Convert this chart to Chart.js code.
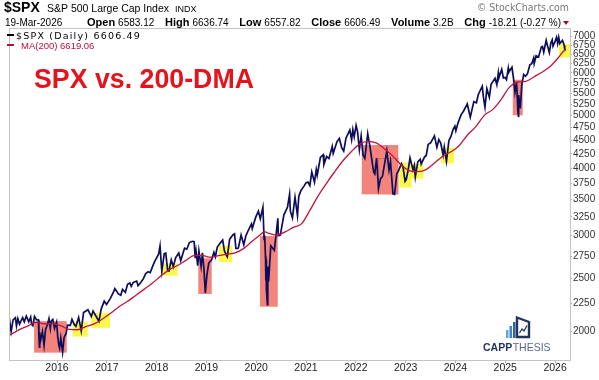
<!DOCTYPE html>
<html>
<head>
<meta charset="utf-8">
<script src="https://cdn.jsdelivr.net/npm/chart.js@4.4.1/dist/chart.umd.min.js"></script>
<style>
  html, body { margin: 0; padding: 0; background: #fff; }
  #chart { display: block; }
</style>
</head>
<body>
<canvas id="chart" width="599" height="380"></canvas>
<script>
const spxDates = [
  '2015-01-13','2015-01-15','2015-01-22','2015-01-30','2015-02-13','2015-03-02','2015-03-10','2015-03-20','2015-04-01','2015-04-24',
  '2015-05-06','2015-05-21','2015-06-08','2015-06-22','2015-06-29','2015-07-08','2015-07-20','2015-08-03','2015-08-18','2015-08-21',
  '2015-08-25','2015-08-27','2015-09-01','2015-09-16','2015-09-28','2015-10-09','2015-10-22','2015-11-03','2015-11-13','2015-11-20',
  '2015-12-01','2015-12-14','2015-12-29','2016-01-07','2016-01-15','2016-01-20','2016-01-29','2016-02-11','2016-02-22','2016-03-08',
  '2016-03-18','2016-04-08','2016-04-20','2016-05-06','2016-05-19','2016-06-08','2016-06-27','2016-07-14','2016-08-15','2016-09-09',
  '2016-09-22','2016-10-13','2016-11-04','2016-11-21','2016-12-13','2016-12-30','2017-01-26','2017-02-15','2017-03-01','2017-03-27',
  '2017-04-13','2017-04-26','2017-05-17','2017-06-02','2017-06-19','2017-06-29','2017-07-14','2017-08-08','2017-08-18','2017-09-08',
  '2017-09-25','2017-10-13','2017-10-31','2017-11-15','2017-12-04','2017-12-18','2018-01-05','2018-01-16','2018-01-26','2018-02-08',
  '2018-02-26','2018-03-09','2018-03-23','2018-04-02','2018-04-18','2018-05-03','2018-05-21','2018-06-12','2018-06-27','2018-07-16',
  '2018-07-25','2018-08-10','2018-08-29','2018-09-20','2018-10-03','2018-10-11','2018-10-17','2018-10-29','2018-11-07','2018-11-23',
  '2018-12-03','2018-12-14','2018-12-24','2019-01-04','2019-01-18','2019-02-08','2019-02-25','2019-03-08','2019-03-21','2019-04-12',
  '2019-04-30','2019-05-13','2019-05-31','2019-06-03','2019-06-20','2019-07-15','2019-07-26','2019-08-05','2019-08-14','2019-08-23',
  '2019-09-12','2019-10-02','2019-10-17','2019-11-05','2019-11-27','2019-12-03','2019-12-27','2020-01-17','2020-01-31','2020-02-19',
  '2020-02-28','2020-03-03','2020-03-09','2020-03-12','2020-03-13','2020-03-16','2020-03-23','2020-03-26','2020-04-01','2020-04-17',
  '2020-05-13','2020-06-08','2020-06-11','2020-06-26','2020-07-22','2020-08-18','2020-09-02','2020-09-08','2020-09-23','2020-10-12',
  '2020-10-30','2020-11-09','2020-11-24','2020-12-18','2020-12-31','2021-01-15','2021-01-29','2021-02-12','2021-03-04','2021-03-17',
  '2021-03-24','2021-04-16','2021-05-07','2021-05-12','2021-06-01','2021-06-18','2021-07-12','2021-07-19','2021-08-16','2021-09-02',
  '2021-09-20','2021-10-04','2021-10-21','2021-11-18','2021-12-01','2021-12-10','2021-12-20','2022-01-03','2022-01-14','2022-01-27',
  '2022-02-09','2022-02-23','2022-03-08','2022-03-29','2022-04-14','2022-04-29','2022-05-12','2022-05-20','2022-06-02','2022-06-16',
  '2022-07-01','2022-07-15','2022-08-16','2022-09-01','2022-09-12','2022-09-30','2022-10-12','2022-10-28','2022-11-10','2022-12-01',
  '2022-12-13','2022-12-28','2023-01-05','2023-01-20','2023-02-02','2023-02-24','2023-03-06','2023-03-13','2023-03-31','2023-04-18',
  '2023-04-25','2023-05-19','2023-06-01','2023-06-15','2023-07-03','2023-07-31','2023-08-18','2023-09-01','2023-09-15','2023-10-03',
  '2023-10-11','2023-10-27','2023-11-14','2023-12-01','2023-12-15','2023-12-28','2024-01-04','2024-01-19','2024-02-12','2024-02-29',
  '2024-03-28','2024-04-19','2024-05-15','2024-06-03','2024-06-17','2024-07-16','2024-07-25','2024-08-05','2024-08-19','2024-09-06',
  '2024-09-19','2024-10-18','2024-10-31','2024-11-11','2024-11-15','2024-12-06','2024-12-18','2024-12-31','2025-01-10','2025-01-23',
  '2025-01-27','2025-02-19','2025-03-03','2025-03-13','2025-03-25','2025-04-04','2025-04-08','2025-04-09','2025-04-21','2025-05-02',
  '2025-05-16','2025-05-30','2025-06-13','2025-06-30','2025-07-15','2025-07-28','2025-08-01','2025-08-15','2025-09-02','2025-09-22',
  '2025-10-01','2025-10-10','2025-10-28','2025-11-07','2025-11-20','2025-12-01','2025-12-11','2025-12-17','2025-12-31','2026-01-12',
  '2026-01-20','2026-01-28','2026-02-05','2026-02-13','2026-02-24','2026-03-03','2026-03-09','2026-03-13','2026-03-19'
];
const spxClose = [
  2023,1992,2063,1995,2097,2117,2044,2108,2060,2117,
  2080,2131,2080,2122,2058,2046,2128,2098,2097,1971,
  1867,1988,1914,1996,1881,2014,2052,2109,2023,2089,
  2102,2022,2078,1943,1880,1859,1940,1829,1946,1979,
  2050,2048,2102,2057,2040,2119,2001,2163,2190,2128,
  2177,2132,2085,2198,2271,2239,2296,2349,2396,2342,
  2329,2387,2357,2439,2453,2419,2459,2474,2425,2461,
  2497,2553,2575,2564,2639,2690,2743,2776,2873,2581,
  2780,2786,2588,2582,2708,2630,2733,2787,2699,2798,
  2846,2833,2914,2930,2925,2728,2809,2641,2813,2633,
  2790,2600,2351,2532,2671,2708,2796,2743,2855,2907,
  2946,2812,2752,2744,2954,3014,3025,2844,2840,2847,
  3009,2887,2998,3074,3154,3093,3240,3330,3225,3386,
  2954,3003,2747,2480,2711,2386,2237,2630,2470,2875,
  2820,3232,3002,3009,3276,3390,3580,3331,3237,3534,
  3270,3550,3635,3709,3756,3768,3714,3934,3768,3975,
  3881,4185,4233,4063,4202,4166,4385,4258,4479,4537,
  4358,4300,4549,4704,4513,4712,4568,4797,4662,4326,
  4587,4225,4170,4632,4392,4132,3930,3901,4176,3667,
  3825,3863,4305,3966,4110,3586,3577,3901,3956,4077,
  4019,3783,3808,3973,4180,3970,4048,3855,4109,4154,
  4071,4192,4221,4425,4455,4589,4370,4515,4450,4229,
  4376,4117,4496,4594,4719,4783,4688,4840,5022,5096,
  5254,4967,5308,5283,5473,5667,5399,5186,5608,5408,
  5713,5864,5705,6001,5870,6090,5872,5882,5827,6119,
  6012,6144,5850,5522,5777,5074,4983,5457,5158,5687,
  5958,5912,5977,6205,6244,6390,6238,6450,6415,6694,
  6711,6553,6890,6728,6538,6812,6901,6721,6845,6977,
  6796,6978,6798,6836,6890,6816,6740,6632,6606
];

// 200-day moving average
const maDates = [
  '2015-01-13','2015-01-31','2015-03-31','2015-05-31','2015-07-31','2015-09-30','2015-11-30','2016-01-31','2016-03-31','2016-05-31',
  '2016-07-31','2016-09-30','2016-11-30','2017-01-31','2017-03-31','2017-05-31','2017-07-31','2017-09-30','2017-11-30','2018-01-31',
  '2018-03-31','2018-05-31','2018-07-31','2018-09-30','2018-11-30','2018-12-31','2019-01-31','2019-03-31','2019-05-31','2019-07-31',
  '2019-09-30','2019-11-30','2020-01-31','2020-02-29','2020-03-31','2020-05-31','2020-07-31','2020-09-30','2020-11-30','2021-01-31',
  '2021-03-31','2021-05-31','2021-07-31','2021-09-30','2021-11-30','2022-01-31','2022-03-31','2022-05-31','2022-07-31','2022-09-30',
  '2022-11-30','2023-01-31','2023-03-31','2023-05-31','2023-07-31','2023-09-30','2023-11-30','2023-12-31','2024-01-31','2024-03-31',
  '2024-05-31','2024-07-31','2024-09-30','2024-11-30','2025-01-31','2025-03-31','2025-05-31','2025-07-31','2025-09-30','2025-11-30',
  '2026-01-31','2026-02-28','2026-03-19'
];
const maValues = [
  1962,1973,2012,2042,2075,2063,2064,2044,2014,2011,
  2038,2061,2105,2159,2217,2267,2327,2388,2450,2528,
  2592,2640,2698,2757,2760,2746,2739,2756,2773,2790,
  2840,2926,3012,3054,3031,3008,3049,3109,3158,3348,
  3554,3749,3943,4132,4294,4434,4483,4453,4338,4209,
  4053,3955,3941,3975,4088,4207,4288,4340,4410,4610,
  4777,5007,5131,5350,5641,5769,5788,5900,6021,6176,
  6428,6564,6619
];

const yearTicks = [2016, 2017, 2018, 2019, 2020, 2021, 2022, 2023, 2024, 2025, 2026];
const priceTicks = [2000, 2250, 2500, 2750, 3000, 3250, 3500, 3750, 4000, 4250, 4500,
  4750, 5000, 5250, 5500, 5750, 6000, 6250, 6500, 6750, 7000];

// quote bar: label / value pairs
const quoteLabels = ['Open', 'High', 'Low', 'Close', 'Volume', 'Chg'];
const quoteValues = ['6583.12', '6636.74', '6557.82', '6606.49', '3.2B', '-18.21 (-0.27 %)'];

// highlighted zones: [from year, to year, low price, high price]
const redZones = [
  [2015.54, 2016.195, 1824, 2086],
  [2018.837, 2019.106, 2341, 2725],
  [2020.076, 2020.432, 2218, 2996],
  [2022.118, 2022.853, 3578, 4413],
  [2022.452, 2022.853, 3578, 4177],
  [2025.151, 2025.351, 5008, 5827]
];
const yellowZones = [
  [2016.315, 2016.616, 1953, 2081],
  [2016.683, 2017.064, 2028, 2162],
  [2018.114, 2018.424, 2531, 2668],
  [2019.253, 2019.514, 2682, 2875],
  [2022.873, 2023.122, 3683, 4094],
  [2023.122, 2023.355, 3823, 4071],
  [2023.711, 2023.972, 4082, 4360],
  [2026.08, 2026.4, 6405, 6783]
];

const toYear = (s) => {
  const [y, m, d] = s.split('-').map(Number);
  const start = Date.UTC(y, 0, 1);
  const end = Date.UTC(y + 1, 0, 1);
  return y + (Date.UTC(y, m - 1, d) - start) / (end - start);
};

const FONT = "'Liberation Sans', Arial, sans-serif";

const zonePlugin = {
  id: 'zones',
  beforeDatasetsDraw(chart) {
    const { ctx, chartArea, scales: { x, y } } = chart;
    ctx.save();
    ctx.beginPath();
    ctx.rect(chartArea.left, chartArea.top, chartArea.width, chartArea.height);
    ctx.clip();
    const paint = (zones, fill) => {
      zones.forEach(([x0, x1, lo, hi], i) => {
        const l = x.getPixelForValue(x0);
        const r = x.getPixelForValue(x1);
        const t = y.getPixelForValue(hi);
        const b = y.getPixelForValue(lo);
        ctx.fillStyle = fill;
        ctx.fillRect(l, t, r - l, b - t);
        // a zone nested in an earlier one shows its inner edges
        const nested = zones.slice(0, i).some(([a0, a1, alo, ahi]) =>
          a0 <= x0 && a1 >= x1 && alo <= lo && ahi >= hi);
        if (nested) {
          ctx.strokeStyle = 'rgba(220,96,88,0.8)';
          ctx.lineWidth = 1;
          ctx.beginPath();
          ctx.moveTo(Math.round(l) + 0.5, b);
          ctx.lineTo(Math.round(l) + 0.5, Math.round(t) + 0.5);
          ctx.lineTo(r, Math.round(t) + 0.5);
          ctx.stroke();
        }
      });
    };
    paint(redZones, '#f3847b');
    paint(yellowZones, '#fbf84c');
    ctx.restore();
  }
};

const decorPlugin = {
  id: 'decor',
  afterDraw(chart) {
    const { ctx, chartArea } = chart;
    ctx.save();

    // frame top / left
    ctx.strokeStyle = '#c4c4c4';
    ctx.lineWidth = 1;
    ctx.beginPath();
    ctx.moveTo(chartArea.left + 0.5, chartArea.bottom);
    ctx.lineTo(chartArea.left + 0.5, chartArea.top + 0.5);
    ctx.lineTo(chartArea.right, chartArea.top + 0.5);
    ctx.stroke();

    // header line 1
    ctx.fillStyle = '#000';
    ctx.textBaseline = 'alphabetic';
    ctx.font = `bold 14px ${FONT}`;
    ctx.fillText('$SPX', 4, 12);
    ctx.font = `10.5px ${FONT}`;
    ctx.fillText('S&P 500 Large Cap Index', 47, 12);
    ctx.font = `9px ${FONT}`;
    ctx.fillText('INDX', 175, 12);

    ctx.fillStyle = '#777';
    ctx.font = `11px 'DejaVu Sans', sans-serif`;
    ctx.textAlign = 'right';
    ctx.fillText('\u00A9 StockCharts.com', 569, 11, 92);
    ctx.textAlign = 'left';

    // header line 2
    ctx.fillStyle = '#000';
    ctx.font = `10px ${FONT}`;
    ctx.fillText('19-Mar-2026', 5, 26);
    const boldFont = `bold 11px ${FONT}`;
    const plainFont = `10px ${FONT}`;
    let used = 0;
    quoteLabels.forEach((lab, i) => {
      ctx.font = boldFont;
      used += ctx.measureText(lab).width;
      ctx.font = plainFont;
      used += ctx.measureText(quoteValues[i]).width;
    });
    const startX = 87;
    const endX = 561;
    const innerGap = 3;
    const outerGap = (endX - startX - used - innerGap * quoteLabels.length) / (quoteLabels.length - 1);
    let cx = startX;
    quoteLabels.forEach((lab, i) => {
      ctx.font = boldFont;
      ctx.fillText(lab, cx, 26);
      cx += ctx.measureText(lab).width + innerGap;
      ctx.font = plainFont;
      ctx.fillText(quoteValues[i], cx, 26);
      cx += ctx.measureText(quoteValues[i]).width + outerGap;
    });
    ctx.fillStyle = '#9a1030';
    ctx.beginPath();
    ctx.moveTo(563, 21);
    ctx.lineTo(569, 21);
    ctx.lineTo(566, 25);
    ctx.closePath();
    ctx.fill();

    // legend
    ctx.fillStyle = '#000';
    ctx.fillRect(7, 34, 7, 2);
    ctx.font = `9.5px 'DejaVu Sans', sans-serif`;
    ctx.letterSpacing = '1.2px';
    ctx.fillText('$SPX (Daily) 6606.49', 16, 38.5);
    ctx.letterSpacing = '0px';
    ctx.fillStyle = '#b8123c';
    ctx.fillRect(7, 44, 7, 2);
    ctx.font = `9.5px ${FONT}`;
    ctx.fillText('MA(200) 6619.06', 21, 48.5);

    // title
    ctx.fillStyle = '#e3141b';
    ctx.font = `bold 27px ${FONT}`;
    ctx.fillText('SPX vs. 200-DMA', 34, 88, 220);

    // logo
    ctx.fillStyle = '#5fa6dd';
    ctx.fillRect(506, 330, 2.5, 8);
    ctx.fillStyle = '#3f86c8';
    ctx.fillRect(509.5, 326, 2.5, 12);
    ctx.fillStyle = '#2a62a6';
    ctx.fillRect(513, 322, 2.5, 16);
    ctx.strokeStyle = '#23345f';
    ctx.lineWidth = 2.4;
    ctx.beginPath();
    ctx.moveTo(517, 317.5);
    ctx.lineTo(529, 322);
    ctx.lineTo(529, 337);
    ctx.lineTo(517, 337);
    ctx.closePath();
    ctx.stroke();
    ctx.lineWidth = 1.3;
    ctx.beginPath();
    ctx.moveTo(519.5, 333);
    ctx.lineTo(522, 329);
    ctx.lineTo(524, 331);
    ctx.lineTo(527, 325.5);
    ctx.stroke();
    ctx.font = `bold 10.5px ${FONT}`;
    ctx.fillStyle = '#23345f';
    ctx.fillText('CAPP', 483, 351);
    const w = ctx.measureText('CAPP').width;
    ctx.font = `10.5px ${FONT}`;
    ctx.fillStyle = '#5a6890';
    ctx.fillText('THESIS', 483 + w + 0.5, 351);

    ctx.restore();
  }
};

const spxPoints = spxDates.map((d, i) => ({ x: toYear(d), y: spxClose[i] }));
const maPoints = maDates.map((d, i) => ({ x: toYear(d), y: maValues[i] }));

new Chart(document.getElementById('chart'), {
  type: 'line',
  data: {
    datasets: [
      {
        label: 'MA(200)',
        data: maPoints,
        borderColor: '#c0143c',
        borderWidth: 1.3,
        pointRadius: 0,
        cubicInterpolationMode: 'monotone'
      },
      {
        label: '$SPX (Daily)',
        data: spxPoints,
        borderColor: '#0d0d5c',
        borderWidth: 1.7,
        pointRadius: 0,
        tension: 0
      }
    ]
  },
  options: {
    responsive: false,
    animation: false,
    devicePixelRatio: 1,
    layout: { padding: { left: 9, top: 28, right: 0, bottom: 0 } },
    plugins: {
      legend: { display: false },
      tooltip: { enabled: false }
    },
    scales: {
      x: {
        type: 'linear',
        min: 2015.036,
        max: 2026.3,
        afterBuildTicks: (scale) => {
          scale.ticks = yearTicks.map((v) => ({ value: v }));
        },
        afterFit: (scale) => { scale.height = 20; },
        ticks: {
          autoSkip: false,
          maxRotation: 0,
          padding: -1,
          color: '#222',
          font: { family: FONT, size: 10.5 },
          callback: (v) => String(v)
        },
        grid: { drawOnChartArea: false, tickLength: 3, color: '#aaa' },
        border: { color: '#c4c4c4' }
      },
      y: {
        type: 'logarithmic',
        position: 'right',
        min: 1768,
        max: 7261,
        afterBuildTicks: (scale) => {
          scale.ticks = priceTicks.map((v) => ({ value: v }));
        },
        afterFit: (scale) => { scale.width = 29; },
        ticks: {
          autoSkip: false,
          padding: 1,
          color: '#333',
          font: { family: FONT, size: 10 },
          callback: (v) => String(v)
        },
        grid: { drawOnChartArea: false, tickLength: 2, color: '#aaa' },
        border: { color: '#c4c4c4', dash: [1, 1] }
      }
    }
  },
  plugins: [zonePlugin, decorPlugin]
});
</script>
</body>
</html>
